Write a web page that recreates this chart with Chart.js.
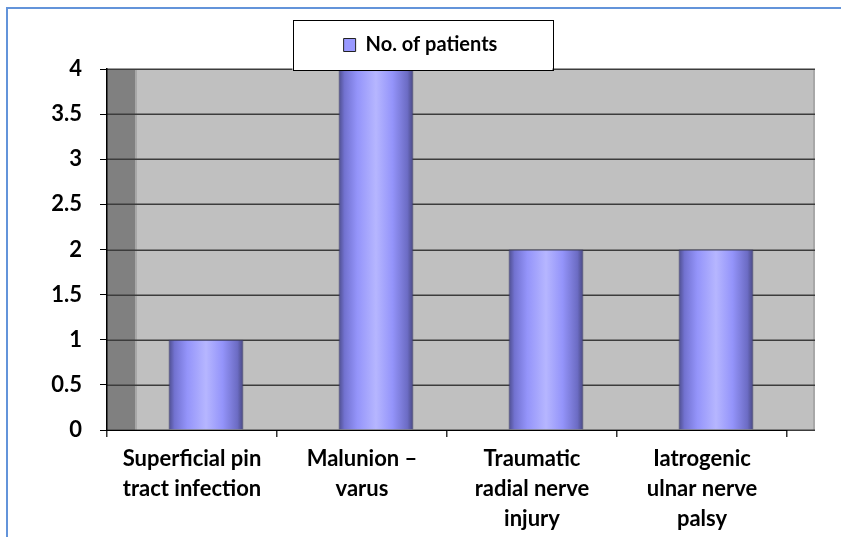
<!DOCTYPE html>
<html>
<head>
<meta charset="utf-8">
<script src="https://cdn.jsdelivr.net/npm/chart.js@4.4.1/dist/chart.umd.min.js"></script>
<style>
  html, body { margin: 0; padding: 0; background: #fff; }
  #wrap { width: 841px; height: 537px; position: relative; }
</style>
</head>
<body>
<div id="wrap"><canvas id="c" width="841" height="537"></canvas></div>
<script>
// ---- data ----
const categories = [
  ["Superficial pin", "tract infection"],
  ["Malunion \u2013", "varus"],
  ["Traumatic", "radial nerve", "injury"],
  ["Iatrogenic", "ulnar nerve", "palsy"]
];
const seriesLabel = "No. of patients";
const patients = [1, 4, 2, 2];
const yMin = 0;
const yMax = 4;
const yStep = 0.5;

// ---- styling constants ----
const DEPTH = 28;       // 3D side wall depth
const SHIFT = 14;       // bar shift due to depth
const FONT = "Lato, 'Open Sans', 'Liberation Sans', sans-serif";

function barGradient(c) {
  const chart = c.chart;
  const xs = chart.scales && chart.scales.x;
  if (!xs || !chart.chartArea || c.dataIndex === undefined) return '#9999ff';
  const cx = xs.getPixelForValue(c.dataIndex);
  const half = xs.width / categories.length * 0.44 / 2;
  const g = chart.ctx.createLinearGradient(cx - half, 0, cx + half, 0);
  g.addColorStop(0.0, '#4d4d8c');
  g.addColorStop(0.08, '#7272d0');
  g.addColorStop(0.25, '#9494fa');
  g.addColorStop(0.5, '#b6b6ff');
  g.addColorStop(0.72, '#9494fa');
  g.addColorStop(0.92, '#6c6cc4');
  g.addColorStop(1.0, '#47477f');
  return g;
}

const backdrop = {
  id: 'backdrop',
  beforeInit(chart) {
    const lg = chart.legend;
    if (lg) {
      const orig = lg.fit;
      lg.fit = function () { orig.bind(lg)(); this.height += 4; };
    }
  },
  beforeDraw(chart) {
    const { ctx, chartArea: a, scales: { y } } = chart;
    const W = chart.width, H = chart.height;
    ctx.save();
    ctx.fillStyle = '#ffffff';
    ctx.fillRect(0, 0, W, H);
    // blue frame
    ctx.strokeStyle = '#6394da';
    ctx.lineWidth = 2;
    ctx.beginPath();
    ctx.moveTo(7, H);
    ctx.lineTo(7, 8);
    ctx.lineTo(W, 8);
    ctx.stroke();
    const right = a.right + DEPTH;
    // back wall
    ctx.fillStyle = '#c0c0c0';
    ctx.fillRect(a.left, a.top, right - a.left, a.bottom - a.top);
    // side wall
    ctx.fillStyle = '#808080';
    ctx.fillRect(a.left, a.top, DEPTH, a.bottom - a.top);
    ctx.fillStyle = '#a8a8a8';
    ctx.fillRect(a.left + DEPTH, a.top, 2, a.bottom - a.top);
    ctx.fillRect(right - 2, a.top, 2, a.bottom - a.top);
    // gridlines
    ctx.strokeStyle = '#3c3c3c';
    ctx.lineWidth = 1.5;
    y.ticks.forEach(t => {
      const py = Math.round(y.getPixelForValue(t.value)) + 0.25;
      ctx.beginPath();
      ctx.moveTo(a.left, py);
      ctx.lineTo(right, py);
      ctx.stroke();
    });
    ctx.restore();
  },
  beforeDatasetsDraw(chart) {
    chart.ctx.save();
    chart.ctx.translate(SHIFT, 0);
  },
  afterDatasetsDraw(chart) {
    const ctx = chart.ctx;
    ctx.restore();
    const lg = chart.legend;
    if (lg && lg.legendHitBoxes && lg.legendHitBoxes.length) {
      const hb = lg.legendHitBoxes[0];
      const cx = hb.left + hb.width / 2 + 2;
      ctx.save();
      ctx.fillStyle = '#ffffff';
      ctx.fillRect(cx - 130, 20, 260, 50);
      ctx.strokeStyle = '#000000';
      ctx.lineWidth = 1;
      ctx.strokeRect(Math.round(cx - 130) + 0.5, 20.5, 260, 50);
      ctx.restore();
      lg.draw();
    }
  }
};

new Chart(document.getElementById('c'), {
  type: 'bar',
  plugins: [backdrop],
  data: {
    labels: categories,
    datasets: [{
      label: seriesLabel,
      data: patients,
      backgroundColor: barGradient,
      borderColor: '#3a3a66',
      borderWidth: 1,
      categoryPercentage: 1.0,
      barPercentage: 0.44
    }]
  },
  options: {
    responsive: false,
    animation: false,
    devicePixelRatio: 1,
    layout: { padding: { left: 0, right: 0, top: 0, bottom: 0 } },
    plugins: {
      tooltip: { enabled: false },
      legend: {
        display: true,
        position: 'top',
        labels: {
          boxWidth: 12,
          boxHeight: 13,
          padding: 35,
          color: '#000',
          font: { family: FONT, size: 20, weight: 'bold' },
          generateLabels: () => [{
            text: seriesLabel,
            fillStyle: '#9999ff',
            strokeStyle: '#222222',
            lineWidth: 1,
            hidden: false,
            datasetIndex: 0,
            fontColor: '#000'
          }]
        }
      }
    },
    scales: {
      x: {
        afterFit: s => { s.height = 107; },
        grid: { drawOnChartArea: false, offset: true, tickLength: 7, color: '#333', lineWidth: 1.5 },
        border: { display: true, color: '#000', width: 1 },
        ticks: {
          maxRotation: 0, autoSkip: false, padding: 7, color: '#000',
          font: { family: FONT, size: 22, weight: 'bold', lineHeight: 1.364 }
        }
      },
      y: {
        min: yMin, max: yMax,
        afterFit: s => { s.width = 107; },
        grid: { drawOnChartArea: false, tickLength: 7, color: '#000', lineWidth: 1 },
        border: { display: true, color: '#000', width: 1.5 },
        ticks: {
          stepSize: yStep, padding: 18, color: '#000',
          callback: v => String(v),
          font: { family: FONT, size: 22, weight: 'bold' }
        }
      },
      yRight: {
        type: 'linear',
        position: 'right',
        min: yMin, max: yMax,
        afterFit: s => { s.width = 54; },
        grid: { display: false, drawOnChartArea: false },
        border: { display: false },
        ticks: { display: false }
      }
    }
  }
});
</script>
</body>
</html>
